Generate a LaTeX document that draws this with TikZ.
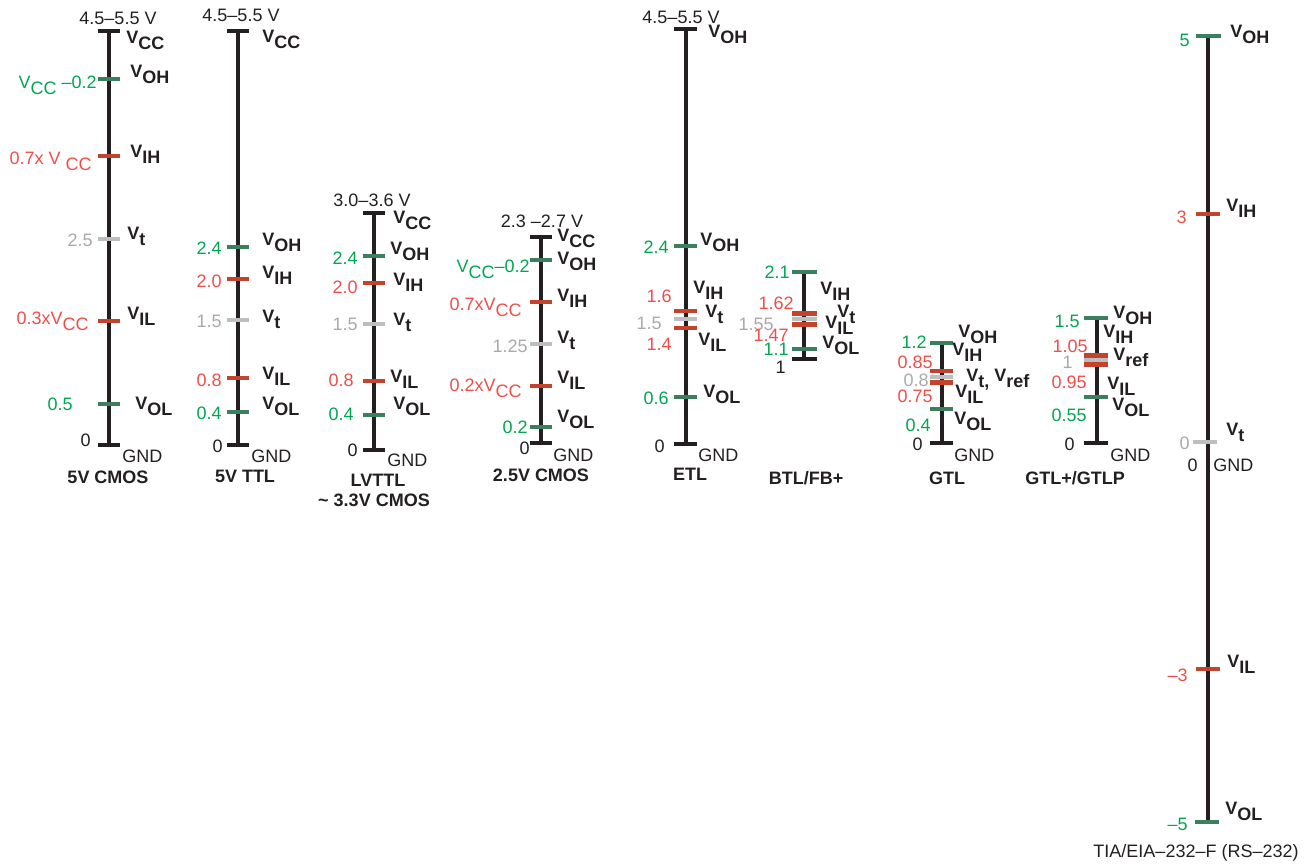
\documentclass[tikz,border=0pt]{standalone}
\usepackage{fontspec}
\setmainfont{Liberation Sans}
\definecolor{barblack}{HTML}{231F20}
\definecolor{tickgreen}{HTML}{3C7F5E}
\definecolor{numgreen}{HTML}{00A651}
\definecolor{tickred}{HTML}{C4432C}
\definecolor{numred}{HTML}{EF4E4A}
\definecolor{tickgray}{HTML}{BCBEC0}
\definecolor{numgray}{HTML}{A7A9AC}
\newcommand{\vsub}[1]{\raisebox{-0.33em}{#1}}
\newcommand{\lblfont}{\fontsize{13.5}{16}\selectfont}
\tikzset{
  bar/.style={draw=barblack,line width=3.6pt},
  gtick/.style={draw=tickgreen,line width=3.6pt},
  rtick/.style={draw=tickred,line width=3.6pt},
  ttick/.style={draw=tickgray,line width=3.6pt},
  sig/.style={anchor=west,inner sep=0pt,text=barblack,font=\lblfont\bfseries},
  gval/.style={anchor=east,inner sep=0pt,text=numgreen,font=\lblfont},
  rval/.style={anchor=east,inner sep=0pt,text=numred,font=\lblfont},
  tval/.style={anchor=east,inner sep=0pt,text=numgray,font=\lblfont},
  kval/.style={anchor=east,inner sep=0pt,text=barblack,font=\lblfont},
  plain/.style={inner sep=0pt,text=barblack,font=\lblfont},
  family/.style={inner sep=0pt,text=barblack,font=\lblfont\bfseries}
}
\begin{document}
\begin{tikzpicture}[x=0.75pt,y=-0.75pt]
        \useasboundingbox (0,0) rectangle (1313,864);

        \draw[bar] (109,31) -- (109,445);
        \draw[bar] (98,31) -- ++(22,0);
        \draw[bar] (98,445) -- ++(22,0);
        \draw[gtick] (98,79) -- ++(22,0);
        \draw[rtick] (98,156) -- ++(22,0);
        \draw[ttick] (98,239) -- ++(22,0);
        \draw[rtick] (98,321) -- ++(22,0);
        \draw[gtick] (98,404) -- ++(22,0);
        \node[plain] (cmosrange) at (118,18) {4.5--5.5 V};
        \node[sig] (cmoscc) at (126,40) {V\vsub{CC}};
        \node[sig] (cmosoh) at (130,74) {V\vsub{OH}};
        \node[sig] (cmosih) at (130,154) {V\vsub{IH}};
        \node[sig] (cmost) at (127,236) {V\vsub{t}};
        \node[sig] (cmosil) at (127,316) {V\vsub{IL}};
        \node[sig] (cmosol) at (135,406) {V\vsub{OL}};
        \node[gval] (cmosvoh) at (97,85) {V\vsub{CC} --0.2};
        \node[rval] (cmosvih) at (92,161) {0.7x V \vsub{CC}};
        \node[tval] (cmosvt) at (93,240) {2.5};
        \node[rval] (cmosvil) at (89,321) {0.3xV\vsub{CC}};
        \node[gval] (cmosvol) at (73,404) {0.5};
        \node[kval] (cmoszero) at (91,440) {0};
        \node[plain,anchor=west] (cmosgnd) at (122,456) {GND};
        \node[family] (cmosname) at (108,477) {5V CMOS};

        \draw[bar] (238,31) -- (238,445);
        \draw[bar] (227,31) -- ++(22,0);
        \draw[bar] (227,445) -- ++(22,0);
        \draw[gtick] (227,247) -- ++(22,0);
        \draw[rtick] (227,279) -- ++(22,0);
        \draw[ttick] (227,320) -- ++(22,0);
        \draw[rtick] (227,378) -- ++(22,0);
        \draw[gtick] (227,412) -- ++(22,0);
        \node[plain] (ttlrange) at (241,15) {4.5--5.5 V};
        \node[sig] (ttlcc) at (262,39) {V\vsub{CC}};
        \node[sig] (ttloh) at (262,242) {V\vsub{OH}};
        \node[sig] (ttlih) at (262,275) {V\vsub{IH}};
        \node[sig] (ttlt) at (262,319) {V\vsub{t}};
        \node[sig] (ttlil) at (262,376) {V\vsub{IL}};
        \node[sig] (ttlol) at (262,406) {V\vsub{OL}};
        \node[gval] (ttlvoh) at (222,248) {2.4};
        \node[rval] (ttlvih) at (222,281) {2.0};
        \node[tval] (ttlvt) at (222,321) {1.5};
        \node[rval] (ttlvil) at (222,380) {0.8};
        \node[gval] (ttlvol) at (222,413) {0.4};
        \node[kval] (ttlzero) at (223,446) {0};
        \node[plain,anchor=west] (ttlgnd) at (251,456) {GND};
        \node[family] (ttlname) at (245,476) {5V TTL};

        \draw[bar] (374,213) -- (374,450);
        \draw[bar] (363,213) -- ++(22,0);
        \draw[bar] (363,450) -- ++(22,0);
        \draw[gtick] (363,256) -- ++(22,0);
        \draw[rtick] (363,283) -- ++(22,0);
        \draw[ttick] (363,324) -- ++(22,0);
        \draw[rtick] (363,381) -- ++(22,0);
        \draw[gtick] (363,415) -- ++(22,0);
        \node[plain] (lvrange) at (372,200) {3.0--3.6 V};
        \node[sig] (lvcc) at (393,220) {V\vsub{CC}};
        \node[sig] (lvoh) at (390,251) {V\vsub{OH}};
        \node[sig] (lvih) at (393,282) {V\vsub{IH}};
        \node[sig] (lvt) at (393,322) {V\vsub{t}};
        \node[sig] (lvil) at (390,379) {V\vsub{IL}};
        \node[sig] (lvol) at (393,406) {V\vsub{OL}};
        \node[gval] (lvvoh) at (358,258) {2.4};
        \node[rval] (lvvih) at (358,287) {2.0};
        \node[tval] (lvvt) at (358,324) {1.5};
        \node[rval] (lvvil) at (354,380) {0.8};
        \node[gval] (lvvol) at (354,414) {0.4};
        \node[kval] (lvzero) at (358,450) {0};
        \node[plain,anchor=west] (lvgnd) at (387,460) {GND};
        \node[family] (lvname) at (378,480) {LVTTL};
        \node[family] (lvname2) at (374,500) {\textasciitilde\ 3.3V CMOS};

        \draw[bar] (541,237) -- (541,443);
        \draw[bar] (530,237) -- ++(22,0);
        \draw[bar] (530,443) -- ++(22,0);
        \draw[gtick] (530,260) -- ++(22,0);
        \draw[rtick] (530,302) -- ++(22,0);
        \draw[ttick] (530,344) -- ++(22,0);
        \draw[rtick] (530,386) -- ++(22,0);
        \draw[gtick] (530,427) -- ++(22,0);
        \node[plain] (tfrange) at (542,221) {2.3 --2.7 V};
        \node[sig] (tfcc) at (557,238) {V\vsub{CC}};
        \node[sig] (tfoh) at (557,261) {V\vsub{OH}};
        \node[sig] (tfih) at (557,298) {V\vsub{IH}};
        \node[sig] (tft) at (557,340) {V\vsub{t}};
        \node[sig] (tfil) at (557,380) {V\vsub{IL}};
        \node[sig] (tfol) at (557,419) {V\vsub{OL}};
        \node[gval] (tfvoh) at (530,269) {V\vsub{CC}--0.2};
        \node[rval] (tfvih) at (522,307) {0.7xV\vsub{CC}};
        \node[tval] (tfvt) at (528,346) {1.25};
        \node[rval] (tfvil) at (522,388) {0.2xV\vsub{CC}};
        \node[gval] (tfvol) at (528,427) {0.2};
        \node[kval] (tfzero) at (530,448) {0};
        \node[plain,anchor=west] (tfgnd) at (553,455) {GND};
        \node[family] (tfname) at (541,475) {2.5V CMOS};

        \draw[bar] (686,29) -- (686,444);
        \draw[bar] (674,29) -- ++(23,0);
        \draw[bar] (674,444) -- ++(23,0);
        \draw[gtick] (674,246) -- ++(23,0);
        \draw[rtick] (674,311) -- ++(23,0);
        \draw[ttick] (674,319) -- ++(23,0);
        \draw[rtick] (674,328) -- ++(23,0);
        \draw[gtick] (674,397) -- ++(23,0);
        \node[plain] (etlrange) at (681,17) {4.5--5.5 V};
        \node[sig] (etltop) at (708,34) {V\vsub{OH}};
        \node[sig] (etloh) at (700,242) {V\vsub{OH}};
        \node[sig] (etlih) at (693,290) {V\vsub{IH}};
        \node[sig] (etlt) at (705,314) {V\vsub{t}};
        \node[sig] (etlil) at (698,342) {V\vsub{IL}};
        \node[sig] (etlol) at (703,394) {V\vsub{OL}};
        \node[gval] (etlvoh) at (669,247) {2.4};
        \node[rval] (etlvih) at (672,296) {1.6};
        \node[tval] (etlvt) at (662,323) {1.5};
        \node[rval] (etlvil) at (672,344) {1.4};
        \node[gval] (etlvol) at (669,398) {0.6};
        \node[kval] (etlzero) at (665,446) {0};
        \node[plain,anchor=west] (etlgnd) at (698,455) {GND};
        \node[family] (etlname) at (690,474) {ETL};

        \draw[bar] (804,272) -- (804,359);
        \draw[gtick] (792,272) -- ++(25,0);
        \draw[rtick] (792,313.5) -- ++(25,0);
        \draw[ttick] (792,319) -- ++(25,0);
        \draw[rtick] (792,324.5) -- ++(25,0);
        \draw[gtick] (792,349) -- ++(25,0);
        \draw[bar] (792,359) -- ++(25,0);
        \node[sig] (btlih) at (820,291) {V\vsub{IH}};
        \node[sig] (btlt) at (837,314) {V\vsub{t}};
        \node[sig] (btlil) at (825,325) {V\vsub{IL}};
        \node[sig] (btlol) at (822,345) {V\vsub{OL}};
        \node[gval] (btlvoh) at (790,272) {2.1};
        \node[rval] (btlvih) at (794,303) {1.62};
        \node[tval] (btlvt) at (774,324) {1.55};
        \node[rval] (btlvil) at (789,335) {1.47};
        \node[gval] (btlvol) at (789,349) {1.1};
        \node[kval] (btlone) at (786,367) {1};
        \node[family] (btlname) at (806,478) {BTL/FB+};

        \draw[bar] (942,343) -- (942,443);
        \draw[gtick] (930,343) -- ++(23,0);
        \draw[rtick] (930,371) -- ++(23,0);
        \draw[ttick] (930,377) -- ++(23,0);
        \draw[rtick] (930,382.5) -- ++(23,0);
        \draw[gtick] (930,409) -- ++(23,0);
        \draw[bar] (930,443) -- ++(23,0);
        \node[sig] (gtloh) at (958,334) {V\vsub{OH}};
        \node[sig] (gtlih) at (952,352) {V\vsub{IH}};
        \node[sig] (gtlt) at (966,380) {V\vsub{t,} V\vsub{ref}};
        \node[sig] (gtlil) at (955,394) {V\vsub{IL}};
        \node[sig] (gtlol) at (954,421) {V\vsub{OL}};
        \node[gval] (gtlvoh) at (927,342) {1.2};
        \node[rval] (gtlvih) at (933,362) {0.85};
        \node[tval] (gtlvt) at (929,380) {0.8};
        \node[rval] (gtlvil) at (933,396) {0.75};
        \node[gval] (gtlvol) at (931,425) {0.4};
        \node[kval] (gtlzero) at (923,444) {0};
        \node[plain,anchor=west] (gtlgnd) at (954,455) {GND};
        \node[family] (gtlname) at (947,478) {GTL};

        \draw[bar] (1097,318) -- (1097,443);
        \draw[gtick] (1084,318) -- ++(24,0);
        \draw[rtick] (1084,355.5) -- ++(24,0);
        \draw[ttick] (1084,360) -- ++(24,0);
        \draw[rtick] (1084,364.5) -- ++(24,0);
        \draw[gtick] (1084,397) -- ++(24,0);
        \draw[bar] (1084,443) -- ++(24,0);
        \node[sig] (gtpoh) at (1113,315) {V\vsub{OH}};
        \node[sig] (gtpih) at (1103,334) {V\vsub{IH}};
        \node[sig] (gtpref) at (1113,357) {V\vsub{ref}};
        \node[sig] (gtpil) at (1107,386) {V\vsub{IL}};
        \node[sig] (gtpol) at (1112,407) {V\vsub{OL}};
        \node[gval] (gtpvoh) at (1080,321) {1.5};
        \node[rval] (gtpvih) at (1088,346) {1.05};
        \node[tval] (gtpvt) at (1073,362) {1};
        \node[rval] (gtpvil) at (1087,382) {0.95};
        \node[gval] (gtpvol) at (1087,415) {0.55};
        \node[kval] (gtpzero) at (1075,444) {0};
        \node[plain,anchor=west] (gtpgnd) at (1110,455) {GND};
        \node[family] (gtpname) at (1075,478) {GTL+/GTLP};

        \draw[bar] (1208,36) -- (1208,822);
        \draw[gtick] (1196,36) -- ++(25,0);
        \draw[rtick] (1196,214) -- ++(24,0);
        \draw[ttick] (1193,442) -- ++(24,0);
        \draw[rtick] (1196,669) -- ++(24,0);
        \draw[gtick] (1195,822) -- ++(24,0);
        \node[sig] (rsoh) at (1230,34) {V\vsub{OH}};
        \node[sig] (rsih) at (1226,208) {V\vsub{IH}};
        \node[sig] (rst) at (1226,432) {V\vsub{t}};
        \node[sig] (rsil) at (1227,664) {V\vsub{IL}};
        \node[sig] (rsol) at (1225,811) {V\vsub{OL}};
        \node[gval] (rsvoh) at (1190,40) {5};
        \node[rval] (rsvih) at (1187,217) {3};
        \node[tval] (rsvt) at (1190,443) {0};
        \node[rval] (rsvil) at (1188,675) {--3};
        \node[gval] (rsvol) at (1188,824) {--5};
        \node[kval] (rszero) at (1198,465) {0};
        \node[plain,anchor=west] (rsgnd) at (1213,465) {GND};
        \node[plain] (rsname) at (1196,853) {TIA/EIA--232--F (RS--232)};
    \end{tikzpicture}
\end{document}
